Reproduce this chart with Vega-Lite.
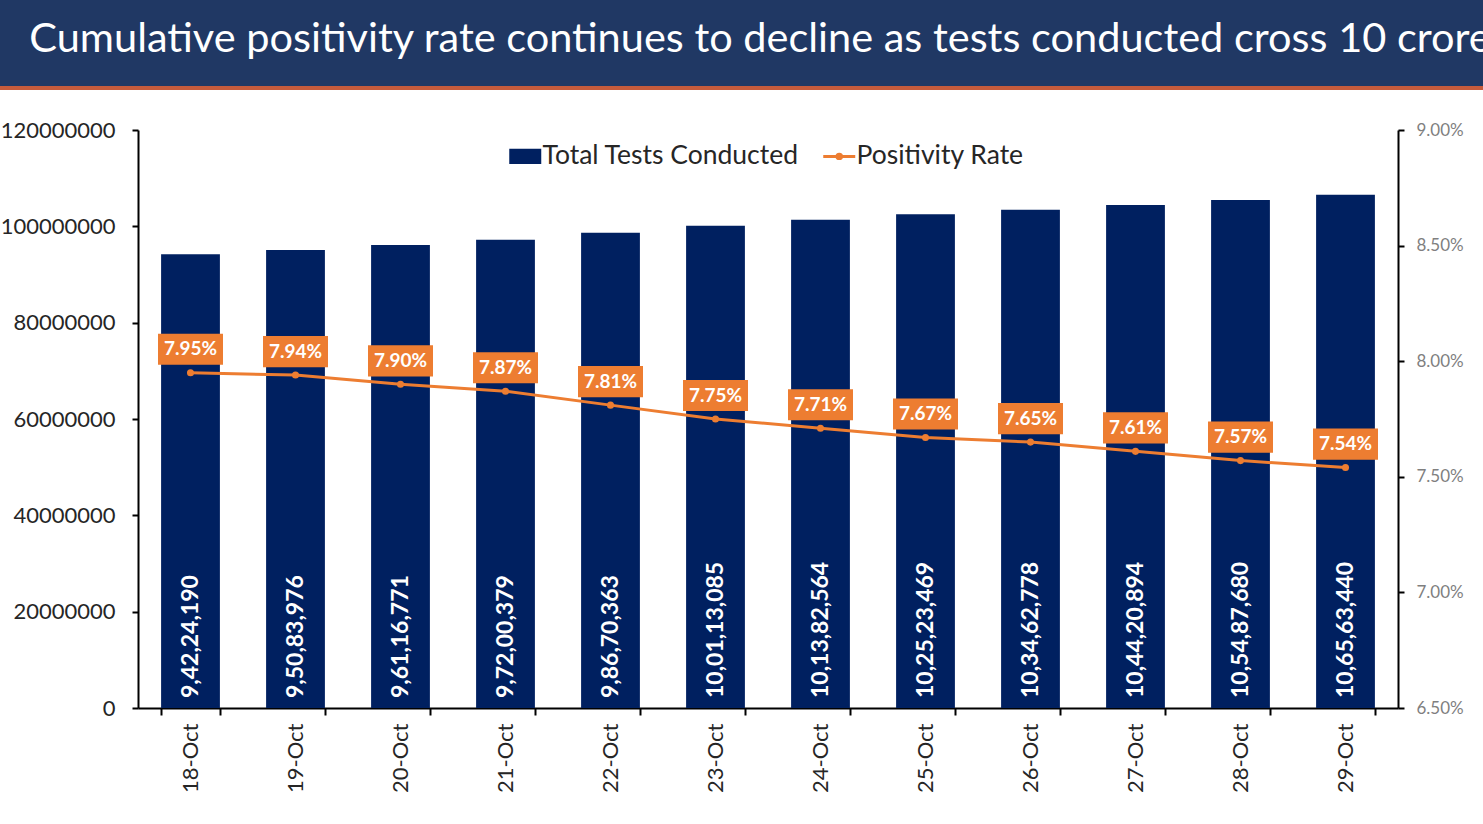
{
  "$schema": "https://vega.github.io/schema/vega-lite/v6.json",
  "padding": 0,
  "background": "white",
  "config": {"view": {"stroke": null}, "font": "Lato"},
  "datasets": {
    "banner": [{"t": "Cumulative positivity rate continues to decline as tests conducted cross 10 crore"}],
    "main": [
      {"date": "18-Oct", "tests": 94224190, "label": "9,42,24,190", "pr": 0.0795},
      {"date": "19-Oct", "tests": 95083976, "label": "9,50,83,976", "pr": 0.0794},
      {"date": "20-Oct", "tests": 96116771, "label": "9,61,16,771", "pr": 0.0790},
      {"date": "21-Oct", "tests": 97200379, "label": "9,72,00,379", "pr": 0.0787},
      {"date": "22-Oct", "tests": 98670363, "label": "9,86,70,363", "pr": 0.0781},
      {"date": "23-Oct", "tests": 100113085, "label": "10,01,13,085", "pr": 0.0775},
      {"date": "24-Oct", "tests": 101382564, "label": "10,13,82,564", "pr": 0.0771},
      {"date": "25-Oct", "tests": 102523469, "label": "10,25,23,469", "pr": 0.0767},
      {"date": "26-Oct", "tests": 103462778, "label": "10,34,62,778", "pr": 0.0765},
      {"date": "27-Oct", "tests": 104420894, "label": "10,44,20,894", "pr": 0.0761},
      {"date": "28-Oct", "tests": 105487680, "label": "10,54,87,680", "pr": 0.0757},
      {"date": "29-Oct", "tests": 106563440, "label": "10,65,63,440", "pr": 0.0754}
    ]
  },
  "spacing": 29,
  "resolve": {"scale": {"color": "independent"}, "legend": {"color": "independent"}},
  "vconcat": [
    {
      "width": 1345, "height": 90,
      "data": {"name": "banner"},
      "layer": [
        {"mark": {"type": "rect", "color": "#c65b3c", "opacity": 1},
         "encoding": {
           "x": {"datum": 0, "type": "quantitative", "scale": {"domain": [0, 1483], "range": [-138, 1345], "nice": false, "zero": false}, "axis": null},
           "x2": {"datum": 1483},
           "y": {"datum": 0, "type": "quantitative", "scale": {"domain": [0, 90], "range": [0, 90], "nice": false, "zero": false}, "axis": null},
           "y2": {"datum": 90}}},
        {"mark": {"type": "rect", "color": "#203864", "opacity": 1},
         "encoding": {
           "x": {"datum": 0, "type": "quantitative"},
           "x2": {"datum": 1483},
           "y": {"datum": 0, "type": "quantitative"},
           "y2": {"datum": 86}}},
        {
          "mark": {"type": "text", "color": "white", "fontSize": 41.5, "align": "center", "baseline": "alphabetic", "font": "Lato", "limit": 0},
          "encoding": {
            "x": {"datum": 760, "type": "quantitative"},
            "y": {"datum": 52, "type": "quantitative"},
            "text": {"field": "t"}}
        }
      ]
    },
    {
      "width": 1260, "height": 578,
      "data": {"name": "main"},
      "encoding": {
        "x": {
          "field": "date", "type": "nominal", "sort": null,
          "scale": {"paddingInner": 0.44, "paddingOuter": 0.22},
          "axis": {"title": null, "labelAngle": 270, "labelFontSize": 22, "labelColor": "#262626", "labelFont": "Lato",
                   "tickBand": "extent", "tickSize": 7, "tickColor": "black", "tickWidth": 2,
                   "domainColor": "black", "domainWidth": 2, "labelPadding": 8}
        }
      },
      "layer": [
        {
          "layer": [
            {
              "mark": {"type": "bar"},
              "encoding": {
                "y": {"field": "tests", "type": "quantitative", "scale": {"domain": [0, 120000000], "nice": false},
                      "axis": {"title": null, "values": [0, 20000000, 40000000, 60000000, 80000000, 100000000, 120000000], "format": "d",
                               "labelFontSize": 22, "labelColor": "#262626", "labelFont": "Lato", "tickSize": 6, "tickColor": "black", "tickWidth": 2,
                               "domainColor": "black", "domainWidth": 2, "labelPadding": 17, "grid": false}},
                "color": {
                  "datum": "Total Tests Conducted", "type": "nominal",
                  "scale": {"domain": ["Total Tests Conducted", "Positivity Rate"], "range": ["#002060", "#ED7D31"]},
                  "legend": {
                    "title": null, "orient": "none", "legendX": 374, "legendY": 13, "direction": "horizontal",
                    "labelFontSize": 26.5, "labelColor": "#262626", "labelFont": "Lato", "symbolSize": 1024, "labelLimit": 500,
                    "columnPadding": 18, "labelOffset": 4, "padding": 0,
                    "encode": {"symbols": {"update": {
                      "shape": {"signal": "datum.value === 'Positivity Rate' ? 'M-1,0H1M-0.14,0A0.14,0.14,0,1,1,0.14,0A0.14,0.14,0,1,1,-0.14,0' : 'M-1,-0.47H1V0.47H-1Z'"},
                      "fill": {"signal": "datum.value === 'Positivity Rate' ? '#ED7D31' : '#002060'"},
                      "stroke": {"signal": "datum.value === 'Positivity Rate' ? '#ED7D31' : '#002060'"},
                      "strokeWidth": {"signal": "datum.value === 'Positivity Rate' ? 3 : 0"},
                      "opacity": {"value": 1}
                    }}}
                  }
                }
              }
            },
            {
              "mark": {"type": "text", "angle": 270, "align": "left", "baseline": "middle", "color": "white", "fontWeight": "bold", "fontSize": 23, "font": "Lato", "dx": 10},
              "encoding": {
                "y": {"datum": 0, "type": "quantitative"},
                "text": {"field": "label"}
              }
            }
          ]
        },
        {
          "layer": [
            {
              "mark": {"type": "line", "strokeWidth": 3},
              "encoding": {
                "y": {"field": "pr", "type": "quantitative", "scale": {"domain": [0.065, 0.09], "nice": false, "zero": false},
                      "axis": {"title": null, "orient": "right", "values": [0.065, 0.07, 0.075, 0.08, 0.085, 0.09], "format": ".2%",
                               "labelFontSize": 17, "labelColor": "#7f7f7f", "labelFont": "Lato", "tickSize": 6, "tickColor": "black", "tickWidth": 2,
                               "domainColor": "black", "domainWidth": 2, "labelPadding": 12, "grid": false}},
                "color": {"datum": "Positivity Rate", "type": "nominal"}
              }
            },
            {
              "mark": {"type": "point", "filled": true, "size": 50, "color": "#ED7D31", "opacity": 1},
              "encoding": {"y": {"field": "pr", "type": "quantitative"}}
            },
            {
              "mark": {"type": "point", "filled": true, "size": 4225, "color": "#ED7D31", "opacity": 1, "shape": "M-1,-0.48H1V0.48H-1Z", "yOffset": -23.5},
              "encoding": {"y": {"field": "pr", "type": "quantitative"}}
            },
            {
              "mark": {"type": "text", "color": "white", "fontWeight": "bold", "fontSize": 19, "font": "Lato", "align": "center", "baseline": "middle", "dy": -23.5},
              "encoding": {
                "y": {"field": "pr", "type": "quantitative"},
                "text": {"field": "pr", "type": "quantitative", "format": ".2%"}
              }
            }
          ]
        }
      ],
      "resolve": {"scale": {"y": "independent"}}
    }
  ]
}
